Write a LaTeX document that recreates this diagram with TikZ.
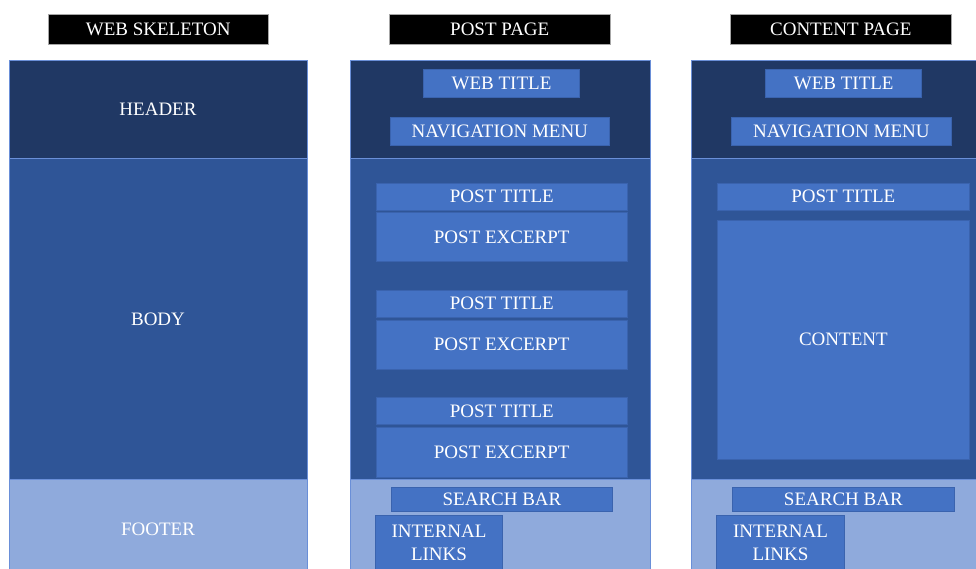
\documentclass[tikz,border=0pt]{standalone}
\usepackage{fontspec}
\setmainfont{Liberation Serif}
\definecolor{hdr}{HTML}{203864}
\definecolor{bdy}{HTML}{2F5597}
\definecolor{ftr}{HTML}{8FAADC}
\definecolor{inr}{HTML}{4472C4}
\definecolor{colline}{HTML}{6A8FD8}
\definecolor{inrline}{HTML}{3A63AE}
\newcommand{\bx}[7]{%
  \node[#6, minimum width={(#4-#2)*1pt}, minimum height={(#5-#3)*1pt}]
    (#1) at ({(#2+#4)/2},{(#3+#5)/2+1}) {#7};}
\tikzset{
  base/.style={rectangle, inner sep=0pt, outer sep=0pt, text=white,
    font=\fontsize{19}{23}\selectfont, align=center},
  ttl/.style={base, fill=black, draw=gray!70, line width=0.8pt},
  hdrbox/.style={base, fill=hdr, draw=colline, line width=0.8pt},
  bdybox/.style={base, fill=bdy, draw=colline, line width=0.8pt},
  ftrbox/.style={base, fill=ftr, draw=colline, line width=0.8pt},
  inbox/.style={base, fill=inr, draw=inrline, line width=0.6pt},
}
\begin{document}
\begin{tikzpicture}[x=1pt,y=-1pt]
\useasboundingbox (0,0) rectangle (976,569);
\clip (0,0) rectangle (976,569);
% titles
\bx{t1}{48}{13.5}{268.5}{43}{ttl}{WEB SKELETON}
\bx{t2}{389.5}{13.5}{610}{43}{ttl}{POST PAGE}
\bx{t3}{730.5}{13.5}{951}{43}{ttl}{CONTENT PAGE}
% column 1
\bx{h1}{9}{59.7}{307}{157.7}{hdrbox}{HEADER}
\bx{b1}{9}{157.7}{307}{478}{bdybox}{BODY}
\bx{f1}{9}{478}{307}{579}{ftrbox}{FOOTER}
% column 2
\bx{h2}{350}{59.7}{650}{157.7}{hdrbox}{}
\bx{b2}{350}{157.7}{650}{478}{bdybox}{}
\bx{f2}{350}{478}{650}{579}{ftrbox}{}
\bx{wt2}{423.5}{68.5}{579.5}{96.3}{inbox}{WEB TITLE}
\bx{nm2}{390}{116.5}{609.5}{144.7}{inbox}{NAVIGATION MENU}
\bx{pt2a}{376}{182.5}{627.5}{209}{inbox}{POST TITLE}
\bx{pe2a}{376}{211.7}{627.5}{260.7}{inbox}{POST EXCERPT}
\bx{pt2b}{376}{289.5}{627.5}{316}{inbox}{POST TITLE}
\bx{pe2b}{376}{319}{627.5}{368.5}{inbox}{POST EXCERPT}
\bx{pt2c}{376}{396.5}{627.5}{423.3}{inbox}{POST TITLE}
\bx{pe2c}{376}{426}{627.5}{476.3}{inbox}{POST EXCERPT}
\bx{sb2}{391.7}{486.5}{612.3}{510}{inbox}{SEARCH BAR}
\bx{il2}{375.7}{514.7}{502.3}{569}{inbox}{INTERNAL\\LINKS}
% column 3
\bx{h3}{691.7}{59.7}{991.7}{157.7}{hdrbox}{}
\bx{b3}{691.7}{157.7}{991.7}{478}{bdybox}{}
\bx{f3}{691.7}{478}{991.7}{579}{ftrbox}{}
\bx{wt3}{765.7}{68.5}{921.7}{96.3}{inbox}{WEB TITLE}
\bx{nm3}{731}{116.5}{951.7}{144.7}{inbox}{NAVIGATION MENU}
\bx{pt3}{717.7}{182.5}{969}{209}{inbox}{POST TITLE}
\bx{ct3}{717.7}{219}{969}{458.3}{inbox}{CONTENT}
\bx{sb3}{732.7}{486.5}{954}{510}{inbox}{SEARCH BAR}
\bx{il3}{716.7}{514.7}{844.3}{569}{inbox}{INTERNAL\\LINKS}
\end{tikzpicture}
\end{document}
